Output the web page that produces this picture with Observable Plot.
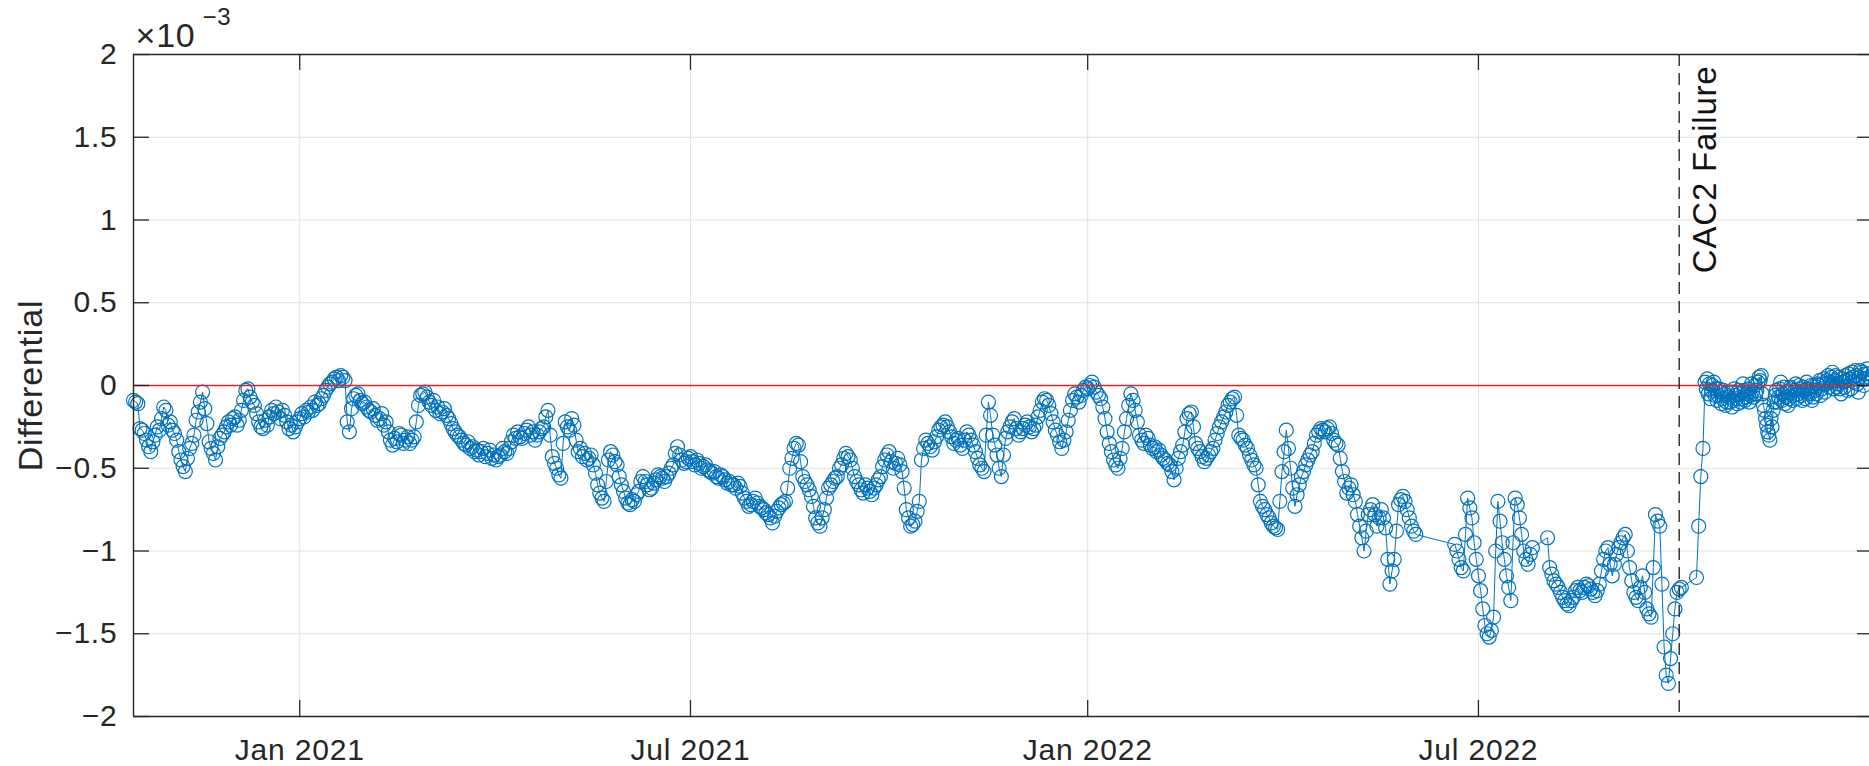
<!DOCTYPE html>
<html>
<head>
<meta charset="utf-8">
<script src="https://cdn.jsdelivr.net/npm/d3@7"></script>
<script src="https://cdn.jsdelivr.net/npm/@observablehq/plot@0.6"></script>
<style>
  html, body { margin: 0; padding: 0; background: #fff; overflow: hidden; }
  svg text { letter-spacing: 0.8px; }
</style>
</head>
<body>
<script>
// ---- Data (daily values, in units of 1e-3) ----
// Segment A: from 2020-10-16
const segA = [-0.09,-0.10,-0.11,-0.26,-0.27,-0.29,-0.33,-0.37,-0.40,-0.34,
  -0.30,-0.25,-0.27,-0.20,-0.13,-0.15,-0.24,-0.22,-0.27,-0.29,
  -0.33,-0.40,-0.45,-0.49,-0.52,-0.44,-0.38,-0.35,-0.30,-0.21,
  -0.16,-0.10,-0.04,-0.14,-0.23,-0.34,-0.38,-0.41,-0.45,-0.37,
  -0.32,-0.30,-0.28,-0.25,-0.22,-0.24,-0.20,-0.19,-0.24,-0.21,
  -0.15,-0.09,-0.03,-0.02,-0.07,-0.10,-0.12,-0.17,-0.22,-0.25,
  -0.26,-0.21,-0.24,-0.19,-0.15,-0.17,-0.13,-0.16,-0.20,-0.15,
  -0.18,-0.22,-0.26,-0.24,-0.28,-0.25,-0.22,-0.20];
// Segment B: from 2021-01-02
const segB = [-0.17,-0.19,-0.15,-0.16,-0.13,-0.15,-0.10,-0.12,-0.11,-0.08,
  -0.06,-0.03,-0.01,0.01,0.02,0.04,0.05,0.03,0.06,0.05,
  0.03,-0.22,-0.28,-0.14,-0.08,-0.06,-0.05,-0.09,-0.11,-0.10,
  -0.13,-0.15,-0.16,-0.14,-0.18,-0.21,-0.20,-0.17,-0.24,-0.22,
  -0.28,-0.33,-0.36,-0.32,-0.34,-0.29,-0.30,-0.35,-0.33,-0.31,
  -0.35,-0.33,-0.31,-0.22,-0.12,-0.06,-0.05,-0.04,-0.07,-0.10,
  -0.12,-0.09,-0.15,-0.13,-0.17,-0.16,-0.14,-0.18,-0.20,-0.23,
  -0.26,-0.28,-0.30,-0.31,-0.33,-0.35,-0.36,-0.34,-0.38,-0.37,
  -0.40,-0.39,-0.42,-0.40,-0.38,-0.43,-0.41,-0.39,-0.44,-0.42,
  -0.45,-0.43,-0.42,-0.38,-0.40,-0.41,-0.38,-0.34,-0.30,-0.32,
  -0.28,-0.31,-0.32,-0.29,-0.27,-0.25,-0.30,-0.28,-0.33,-0.30,
  -0.28,-0.26,-0.25,-0.19,-0.15,-0.30,-0.43,-0.47,-0.50,-0.54,
  -0.56,-0.35,-0.22,-0.25,-0.27,-0.20,-0.24,-0.33,-0.40,-0.38,
  -0.43,-0.41,-0.45,-0.44,-0.42,-0.48,-0.53,-0.60,-0.65,-0.68,
  -0.70,-0.58,-0.45,-0.40,-0.42,-0.46,-0.48,-0.55,-0.60,-0.64,
  -0.68,-0.71,-0.72,-0.69,-0.70,-0.66,-0.64,-0.58,-0.55,-0.58,
  -0.60,-0.63,-0.62,-0.59,-0.57,-0.54,-0.55,-0.56,-0.58,-0.55,
  -0.53,-0.50,-0.48,-0.41,-0.37,-0.42,-0.45,-0.47,-0.46,-0.44,
  -0.43,-0.46,-0.48,-0.45,-0.47,-0.50,-0.49,-0.48,-0.51,-0.52,
  -0.53,-0.52,-0.55,-0.56,-0.54,-0.55,-0.57,-0.59,-0.58,-0.60];
// Segment C: from 2021-07-21
const segC = [-0.60,-0.62,-0.59,-0.61,-0.65,-0.68,-0.70,-0.73,-0.72,-0.70,
  -0.68,-0.71,-0.73,-0.74,-0.75,-0.77,-0.78,-0.80,-0.83,-0.79,
  -0.76,-0.74,-0.72,-0.71,-0.70,-0.62,-0.50,-0.44,-0.38,-0.35,
  -0.36,-0.46,-0.55,-0.58,-0.60,-0.63,-0.67,-0.73,-0.80,-0.83,
  -0.85,-0.80,-0.75,-0.68,-0.62,-0.60,-0.58,-0.56,-0.55,-0.50,
  -0.48,-0.44,-0.41,-0.43,-0.45,-0.50,-0.55,-0.58,-0.60,-0.63,
  -0.65,-0.60,-0.62,-0.64,-0.66,-0.62,-0.60,-0.57,-0.55,-0.49,
  -0.45,-0.42,-0.40,-0.46,-0.50,-0.47,-0.44,-0.48,-0.52,-0.62,
  -0.75,-0.80,-0.85,-0.84,-0.82,-0.76,-0.70,-0.45,-0.38,-0.33,
  -0.35,-0.37,-0.39,-0.34,-0.31,-0.27,-0.25,-0.24,-0.22,-0.25,
  -0.28,-0.31,-0.35,-0.33,-0.32,-0.36,-0.38,-0.33,-0.28,-0.30,
  -0.33,-0.36,-0.40,-0.44,-0.48,-0.50,-0.52,-0.30,-0.10,-0.18,
  -0.30,-0.36,-0.42,-0.50,-0.55,-0.42,-0.32,-0.28,-0.25,-0.22,
  -0.20,-0.26,-0.30,-0.28,-0.26,-0.24,-0.22,-0.25,-0.28,-0.26,
  -0.24,-0.19,-0.15,-0.10,-0.08,-0.09,-0.12,-0.17,-0.22,-0.27,
  -0.30,-0.34,-0.38,-0.33,-0.28,-0.21,-0.15,-0.09,-0.05,-0.07,
  -0.10,-0.06,-0.03,-0.01,-0.02,0.00,0.02,-0.01,-0.04,-0.06,
  -0.08,-0.13,-0.20,-0.28,-0.35,-0.40,-0.45,-0.48,-0.50,-0.44,
  -0.38,-0.28,-0.20,-0.12,-0.05,-0.09,-0.15,-0.22,-0.30,-0.33,
  -0.35,-0.30,-0.32,-0.36,-0.38,-0.37,-0.40,-0.39,-0.42,-0.44];
// Segment D: from 2022-02-06
const segD = [-0.45,-0.47,-0.48,-0.52,-0.57,-0.50,-0.44,-0.40,-0.36,-0.28,
  -0.20,-0.17,-0.16,-0.25,-0.35,-0.38,-0.40,-0.43,-0.46,-0.44,
  -0.42,-0.40,-0.38,-0.33,-0.29,-0.25,-0.22,-0.19,-0.16,-0.12,
  -0.10,-0.08,-0.07,-0.18,-0.30,-0.32,-0.33,-0.36,-0.38,-0.42,
  -0.45,-0.48,-0.50,-0.60,-0.70,-0.73,-0.75,-0.78,-0.80,-0.83,
  -0.85,-0.86,-0.87,-0.70,-0.52,-0.40,-0.27,-0.38,-0.50,-0.62,
  -0.73,-0.66,-0.60,-0.55,-0.52,-0.48,-0.45,-0.42,-0.40,-0.35,
  -0.30,-0.28,-0.26,-0.27,-0.28,-0.26,-0.25,-0.29,-0.33,-0.35,
  -0.36,-0.44,-0.52,-0.58,-0.65,-0.62,-0.60,-0.66,-0.70,-0.78,
  -0.85,-0.92,-1.00,-0.88,-0.78,-0.75,-0.72,-0.78,-0.85,-0.80,
  -0.75,-0.80,-0.86,-1.05,-1.20,-1.12,-1.05,-0.88,-0.72,-0.69,
  -0.67,-0.70,-0.75,-0.80,-0.85,-0.88,-0.90];
// Segment E: from 2022-06-20
const segE = [-0.96,-1.00,-1.05,-1.10,-1.12,-0.90,-0.68,-0.74,-0.80,-0.95,
  -1.05,-1.15,-1.24,-1.35,-1.45,-1.50,-1.52,-1.48,-1.40,-1.00,
  -0.70,-0.82,-0.95,-1.05,-1.15,-1.22,-1.30,-0.95,-0.68,-0.72,
  -0.80,-0.90,-1.00,-1.05,-1.08,-1.02,-0.98];
// Segment F: from 2022-08-02
const segF = [-0.92,-1.10,-1.14,-1.18,-1.20,-1.22,-1.25,-1.28,-1.30,-1.32,
  -1.33,-1.30,-1.28,-1.24,-1.22,-1.24,-1.25,-1.22,-1.20,-1.21,
  -1.23,-1.25,-1.27,-1.24,-1.20,-1.12,-1.05,-1.00,-0.98,-1.08,
  -1.15,-1.08,-1.02,-0.98,-0.95,-0.92,-0.90,-1.00,-1.10,-1.18,
  -1.25,-1.28,-1.30,-1.22,-1.15,-1.25,-1.35,-1.38,-1.40,-1.10,
  -0.78,-0.82,-0.85,-1.20,-1.58,-1.75,-1.80,-1.65,-1.50,-1.35,
  -1.25,-1.23,-1.22];
// Segment G: from 2022-10-10 (after CAC2 failure)
const segG = [-1.16,-0.85,-0.55,-0.38,
  0.02,0.04,0.01,-0.03,0.02,-0.02,-0.06,-0.04,-0.08,-0.05,
  -0.10,-0.07,-0.04,-0.09,-0.06,-0.11,-0.05,-0.08,-0.03,-0.07,
  -0.02,-0.06,-0.04,0.00,-0.03,0.05,0.06,-0.12,-0.20,-0.28,
  -0.33,-0.25,-0.10,-0.03,-0.07,0.02,-0.05,-0.11,-0.04,-0.08,
  -0.02,-0.06,0.01,-0.05,-0.02,-0.09,-0.03,0.02,-0.04,0.00,
  -0.07,-0.03,0.01,0.03,-0.02,0.04,0.01,0.06,0.02,0.08,
  0.03,-0.01,0.05,-0.05,0.02,0.06,-0.03,0.04,0.08,0.02,
  0.06,-0.04,0.09,0.04,0.07,0.10,0.05];
// Segment H: mid-day readings from 2022-10-14 12:00
const segH = [-0.02,-0.05,-0.08,0.00,-0.06,-0.09,-0.02,-0.11,-0.03,-0.12,
  -0.04,-0.10,-0.13,-0.02,-0.08,-0.03,-0.10,0.01,-0.09,-0.05,
  -0.10,0.01,-0.07,-0.05,0.02,0.03,-0.05,-0.15,-0.24,-0.30,
  -0.20,-0.15,-0.06,-0.10,-0.02,-0.09,-0.01,-0.07,-0.12,-0.01,
  -0.09,-0.03,-0.08,0.00,-0.06,-0.01,-0.08,-0.02,-0.05,-0.09,
  0.00,-0.05,0.00,-0.06,0.01,-0.04,0.03,-0.01,0.05,-0.02,
  0.06,0.01,-0.02,0.04,-0.01,0.03,0.07,-0.02,0.05,0.09,
  0.01,0.05,0.08,0.00,0.04,0.07];

const segStarts = ["2020-10-16T00:00","2021-01-02T00:00","2021-07-21T00:00","2022-02-06T00:00",
  "2022-06-20T00:00","2022-08-02T00:00","2022-10-10T00:00","2022-10-14T12:00"];
const segValues = [segA, segB, segC, segD, segE, segF, segG, segH];

const xDomain = ["2020-10-16", "2022-12-31"];
const xTickDates = ["2021-01-01", "2021-07-01", "2022-01-01", "2022-07-01"];
const xTickLabels = ["Jan 2021", "Jul 2021", "Jan 2022", "Jul 2022"];
const yTicks = [-2, -1.5, -1, -0.5, 0, 0.5, 1, 1.5, 2];
const yTickLabels = ["−2", "−1.5", "−1", "−0.5", "0", "0.5", "1", "1.5", "2"];
const yLabel = "Differential";
const exponentBase = "×10";
const exponentPower = "−3";
const failureDate = "2022-10-02";
const failureLabel = "CAC2 Failure";

// ---- Build table ----
const day = 864e5;
const parse = s => new Date(s + "T00:00:00Z");
const data = [];
segValues.forEach((vals, k) => {
  const t0 = +new Date(segStarts[k] + ":00Z");
  vals.forEach((v, i) => data.push({date: new Date(t0 + i * day), value: v}));
});
data.sort((a, b) => a.date - b.date);

const W = 1869, H = 766, mT = 54, mB = 50, mL = 133, mR = 0;
const frameW = W - mL - mR, frameH = H - mT - mB;
const tickLen = 16;
const axisColor = "#262626";
const gridColor = "#e1e1e1";
const blue = "#0072BD";
const font = "'Liberation Sans', Arial, Helvetica, sans-serif";

const chart = Plot.plot({
  width: W, height: H,
  marginTop: mT, marginBottom: mB, marginLeft: mL, marginRight: mR,
  style: {fontFamily: font, fontSize: "30px", color: axisColor, background: "#fff"},
  x: {type: "utc", domain: xDomain.map(parse), range: [mL, 1873], axis: null},
  y: {type: "linear", domain: [-2, 2], axis: null},
  marks: [
    // grid
    Plot.ruleX(xTickDates.map(parse), {x: d => d, stroke: gridColor, strokeWidth: 1}),
    Plot.ruleY(yTicks.slice(1, -1), {y: d => d, stroke: gridColor, strokeWidth: 1}),
    // data
    Plot.line(data, {x: "date", y: "value", stroke: blue, strokeWidth: 1}),
    Plot.dot(data, {x: "date", y: "value", r: 7, stroke: blue, strokeWidth: 1.2, fill: "none"}),
    // zero reference
    Plot.ruleY([0], {stroke: "#d42a2a", strokeWidth: 1.3}),
    // failure marker
    Plot.ruleX([parse(failureDate)], {x: d => d, stroke: axisColor, strokeWidth: 1.4, strokeDasharray: "12,7"}),
    Plot.text([failureLabel], {x: () => parse(failureDate), frameAnchor: "top", text: d => d,
      rotate: -90, textAnchor: "end", lineAnchor: "bottom", dx: 37, dy: 11, fontSize: 33, fill: "#111"}),
    // box
    Plot.ruleY([2, -2], {y: d => d, stroke: axisColor, strokeWidth: 1.4}),
    Plot.ruleX([parse(xDomain[0])], {x: d => d, stroke: axisColor, strokeWidth: 1.4}),
    // inward ticks
    Plot.tickX(xTickDates.map(parse), {x: d => d, stroke: axisColor, strokeWidth: 1.3, insetTop: frameH - tickLen}),
    Plot.tickX(xTickDates.map(parse), {x: d => d, stroke: axisColor, strokeWidth: 1.3, insetBottom: frameH - tickLen}),
    Plot.tickY(yTicks, {y: d => d, stroke: axisColor, strokeWidth: 1.3, insetRight: frameW - tickLen}),
    Plot.tickY(yTicks, {y: d => d, stroke: axisColor, strokeWidth: 1.3, insetLeft: frameW - 12}),
    // tick labels
    Plot.text(xTickDates.map(parse), {x: d => d, frameAnchor: "bottom", text: (d, i) => xTickLabels[i],
      dy: 43, lineAnchor: "bottom", textAnchor: "middle", fontSize: 30, fill: axisColor}),
    Plot.text(yTicks, {y: d => d, frameAnchor: "left", text: (d, i) => yTickLabels[i],
      dx: -16, textAnchor: "end", lineAnchor: "middle", fontSize: 30, fill: axisColor}),
    // y label
    Plot.text([yLabel], {frameAnchor: "left", text: d => d, dx: -102, rotate: -90,
      textAnchor: "middle", lineAnchor: "middle", fontSize: 34, fill: axisColor}),
    // exponent
    Plot.text([exponentBase], {frameAnchor: "top-left", text: d => d, dx: 2, dy: -8,
      textAnchor: "start", lineAnchor: "bottom", fontSize: 34, fill: axisColor}),
    Plot.text([exponentPower], {frameAnchor: "top-left", text: d => d, dx: 69, dy: -30,
      textAnchor: "start", lineAnchor: "bottom", fontSize: 24, fill: axisColor})
  ]
});
document.body.appendChild(chart);
</script>
</body>
</html>
